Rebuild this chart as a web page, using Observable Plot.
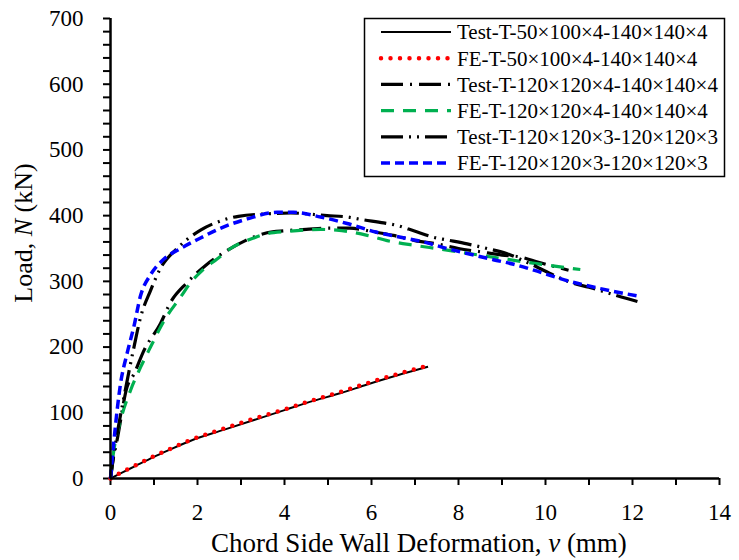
<!DOCTYPE html>
<html><head><meta charset="utf-8">
<script src="https://cdn.jsdelivr.net/npm/d3@7"></script>
<script src="https://cdn.jsdelivr.net/npm/@observablehq/plot@0.6"></script>
<style>body{margin:0;background:#fff;color:#000;font-family:"Liberation Serif",serif}</style>
</head><body><div id="chart"></div>
<script>
const seriesNames = ["Test-T-50×100×4-140×140×4","FE-T-50×100×4-140×140×4","Test-T-120×120×4-140×140×4","FE-T-120×120×4-140×140×4","Test-T-120×120×3-120×120×3","FE-T-120×120×3-120×120×3"];
const test50 = [[0,0],[0.3,10],[0.6,20],[1,33],[1.3,42],[1.9,59],[2.6,74],[3.3,89],[4,104],[4.6,117],[5.3,130],[5.9,143],[6.6,157],[7.3,170]];
const fe50 = [[0,0],[0.3,11],[0.6,21],[1,34],[1.3,43],[1.9,60],[2.6,76],[3.3,91],[4,105],[4.6,118],[5.3,132],[5.9,145],[6.6,159],[7.3,172]];
const test4 = [[0,0],[0.05,25],[0.15,58],[0.38,139],[0.54,159],[0.77,195],[1.15,236],[1.38,268],[1.76,298],[2.2,325],[2.68,347],[3.1,362],[3.6,374],[4.0,377],[4.5,379],[5.0,381],[5.5,381],[6.0,376],[6.5,370],[7.0,362],[7.5,357],[8.0,350],[8.5,345],[9.0,340],[9.43,337],[9.84,329],[10.53,317]];
const fe4 = [[0,0],[0.05,30],[0.23,88],[0.46,134],[0.69,169],[0.92,200],[1.23,240],[1.61,276],[1.84,298],[2.1,316],[2.45,334],[2.76,350],[3.29,366],[3.56,372],[4.06,376],[4.83,379],[5.2,378],[5.9,370],[6.36,362],[6.97,355],[7.6,349],[8.28,342],[8.97,335],[9.58,329],[10.11,324],[10.8,318]];
const test3 = [[0,0],[0.08,38],[0.31,124],[0.54,200],[0.69,245],[0.92,286],[1.15,320],[1.53,350],[2.07,378],[2.53,392],[2.94,399],[3.68,403],[4.14,404],[4.98,400],[5.44,398],[5.78,394],[6.28,389],[6.59,385],[6.97,377],[7.43,367],[7.74,363],[8.2,357],[8.66,350],[9.12,342],[9.7,325],[10.3,306],[10.6,298],[11,291],[11.26,286],[11.65,278],[12.18,268]];
const fe3 = [[0,0],[0.08,58],[0.23,144],[0.38,190],[0.54,232],[0.69,278],[0.92,310],[1.23,334],[1.61,350],[2.07,366],[2.5,380],[3.14,395],[3.83,405],[4.21,405],[4.83,398],[5.44,388],[6.1,375],[6.67,367],[7.13,361],[7.74,350],[8.35,340],[8.8,333],[9.27,326],[9.73,317],[10.5,301],[11.26,289],[12.1,278]];
const xTicks = [0,1,2,3,4,5,6,7,8,9,10,11,12,13,14];
const yTicks = d3.range(0, 701, 20);

const FONT = "Liberation Serif";
const styles = [
  {stroke:"#000", strokeWidth:2, strokeDasharray:null, linecap:"butt"},
  {stroke:"#ff0000", strokeWidth:4.5, strokeDasharray:"0 9.5", linecap:"round"},
  {stroke:"#000", strokeWidth:3.2, strokeDasharray:"22 7 2 7", linecap:"butt"},
  {stroke:"#00b050", strokeWidth:3.2, strokeDasharray:"13 9", linecap:"butt"},
  {stroke:"#000", strokeWidth:3.2, strokeDasharray:"22 6 2 6 2 6", linecap:"butt"},
  {stroke:"#0000ff", strokeWidth:3.5, strokeDasharray:"9 5", linecap:"butt"}
];
const allSeries = [test50, fe50, test4, fe4, test3, fe3];

const lineMarks = allSeries.map((s, i) => Plot.line(s, {
  x: d => d[0], y: d => d[1], curve: "monotone-x",
  stroke: styles[i].stroke, strokeWidth: styles[i].strokeWidth,
  strokeDasharray: styles[i].strokeDasharray, strokeLinecap: styles[i].linecap
}));

const plot = Plot.plot({
  width: 739, height: 560,
  marginLeft: 110, marginRight: 20, marginTop: 18, marginBottom: 82,
  style: {fontFamily: FONT, color: "#000", background: "#fff"},
  x: {domain: [0, 14]},
  y: {domain: [0, 700]},
  marks: [
    Plot.axisX({ticks: xTicks, tickFormat: d => d % 2 === 0 ? d : "", tickSize: 7, tickPadding: 18, fontSize: 23, strokeWidth: 2, label: null}),
    Plot.axisY({ticks: yTicks, tickFormat: d => d % 100 === 0 ? d : "", tickSize: 7, tickPadding: 20, fontSize: 23, strokeWidth: 2, label: null}),
    ...lineMarks,
    Plot.ruleY([0], {stroke: "#000", strokeWidth: 2.5}),
    Plot.ruleX([0], {stroke: "#000", strokeWidth: 2.5})
  ]
});
document.getElementById("chart").appendChild(plot);
d3.select(plot).selectAll("text").attr("font-family", FONT);

const svg = d3.select(plot);
// axis titles
const xt = svg.append("text").attr("x", 419).attr("y", 552).attr("text-anchor", "middle")
  .attr("font-size", 27).attr("font-family", FONT).attr("fill", "#000");
xt.append("tspan").text("Chord Side Wall Deformation, ");
xt.append("tspan").attr("font-style", "italic").text("v");
xt.append("tspan").text(" (mm)");
const yt = svg.append("text").attr("transform", "translate(32,233) rotate(-90)").attr("text-anchor", "middle")
  .attr("font-size", 26).attr("font-family", FONT).attr("fill", "#000");
yt.append("tspan").text("Load, ");
yt.append("tspan").attr("font-style", "italic").text("N");
yt.append("tspan").text(" (kN)");

// legend
const lg = svg.append("g");
lg.append("rect").attr("x", 364.5).attr("y", 18.5).attr("width", 360).attr("height", 158)
  .attr("fill", "#fff").attr("stroke", "#000").attr("stroke-width", 1.5);
seriesNames.forEach((name, i) => {
  const cy = 32 + i * 26.2;
  lg.append("line").attr("x1", 381).attr("x2", 451).attr("y1", cy).attr("y2", cy)
    .attr("stroke", styles[i].stroke).attr("stroke-width", styles[i].strokeWidth)
    .attr("stroke-dasharray", styles[i].strokeDasharray).attr("stroke-linecap", styles[i].linecap);
  lg.append("text").attr("x", 457).attr("y", cy).attr("dy", "0.35em").attr("text-anchor", "start")
    .attr("font-size", 21).attr("font-family", FONT).attr("fill", "#000").text(name);
});
</script></body></html>
